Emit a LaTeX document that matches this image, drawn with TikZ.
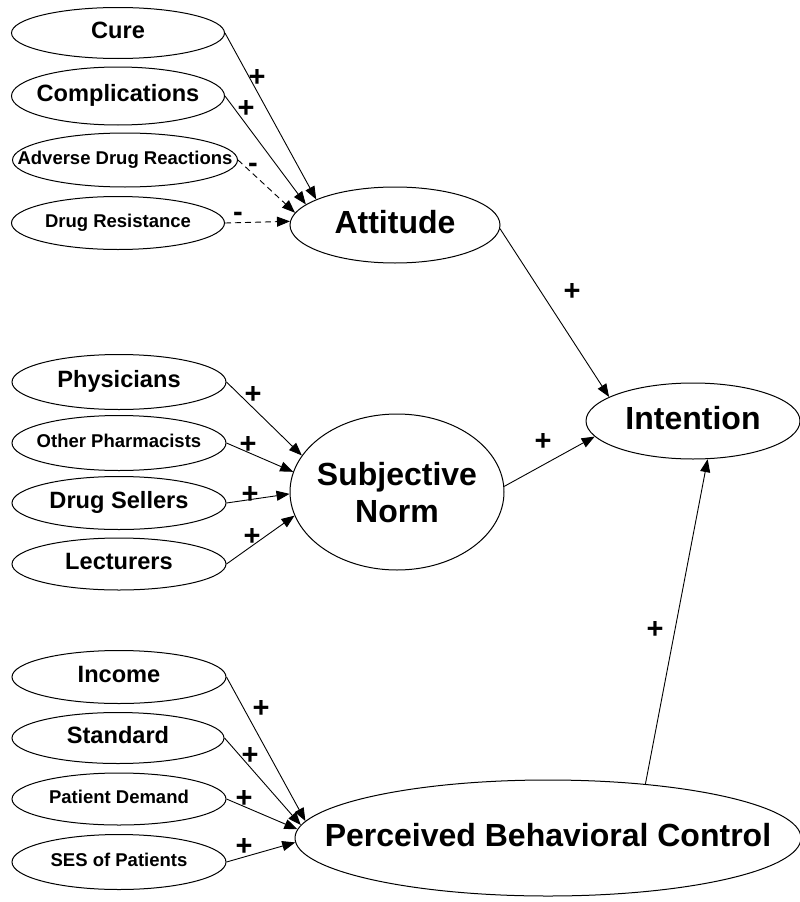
\documentclass[tikz,border=0pt]{standalone}
\usepackage{fontspec}
\setmainfont{Liberation Sans}
\usetikzlibrary{shapes.geometric,arrows.meta}

% text of zero size, caps centred a little above the middle
\newcommand{\elltxt}[1]{\makebox[0pt]{\raisebox{\dimexpr2.5pt-0.358em\relax}[0pt][0pt]{#1}}}

\begin{document}
\begin{tikzpicture}[x=1pt,y=-1pt,
  oval/.style={ellipse,draw,line width=1pt,inner sep=0pt},
  small/.style={font=\bfseries\fontsize{18.5}{22}\selectfont},
  mid/.style={font=\bfseries\fontsize{23.6}{28}\selectfont},
  big/.style={font=\bfseries\fontsize{32}{37}\selectfont},
  sign/.style={font=\bfseries\fontsize{29}{30}\selectfont,inner sep=0pt},
  link/.style={line width=0.9pt,-{Triangle[length=13pt,width=10pt]}},
  neg/.style={link,dash pattern=on 6pt off 4pt}]
\useasboundingbox (0,0) rectangle (800,902);

% attitude beliefs
\node[oval,mid,minimum width=213pt,minimum height=51pt] (cure) at (118,33) {\elltxt{Cure}};
\node[oval,mid,minimum width=213pt,minimum height=58pt] (compl) at (118,96) {\elltxt{Complications}};
\node[oval,small,minimum width=225pt,minimum height=54pt] (adr) at (125,160) {\elltxt{Adverse Drug Reactions}};
\node[oval,small,minimum width=213pt,minimum height=53pt] (dres) at (118,223) {\elltxt{Drug Resistance}};

% normative referents
\node[oval,mid,minimum width=214pt,minimum height=55pt] (phys) at (119,382) {\elltxt{Physicians}};
\node[oval,small,minimum width=214pt,minimum height=55pt] (opharm) at (119,443) {\elltxt{Other Pharmacists}};
\node[oval,mid,minimum width=214pt,minimum height=53pt] (dsell) at (119,503) {\elltxt{Drug Sellers}};
\node[oval,mid,minimum width=214pt,minimum height=52pt] (lect) at (119,564) {\elltxt{Lecturers}};

% control factors
\node[oval,mid,minimum width=214pt,minimum height=53pt] (income) at (119,677) {\elltxt{Income}};
\node[oval,mid,minimum width=212pt,minimum height=51pt] (std) at (118,738) {\elltxt{Standard}};
\node[oval,small,minimum width=214pt,minimum height=52pt] (pdem) at (119,799) {\elltxt{Patient Demand}};
\node[oval,small,minimum width=214pt,minimum height=55pt] (ses) at (119,862) {\elltxt{SES of Patients}};

% constructs
\node[oval,big,minimum width=210pt,minimum height=76pt] (att) at (395,225) {\elltxt{Attitude}};
\node[oval,big,minimum width=214pt,minimum height=156pt] (sn) at (397,492)
  {\makebox[0pt]{\raisebox{\dimexpr-2.5pt-0.25em\relax}[0pt][0pt]{\begin{tabular}{@{}c@{}}Subjective\\Norm\end{tabular}}}};
\node[oval,big,minimum width=506pt,minimum height=116pt] (pbc) at (548,838) {\elltxt{Perceived Behavioral Control}};
\node[oval,big,minimum width=214pt,minimum height=76pt] (int) at (693,421) {\elltxt{Intention}};

% connectors
\draw[link] (cure.east) -- (att.162);
\draw[link] (compl.east) -- (att.167);
\draw[neg] (adr.east) -- (att.173.5);
\draw[neg] (dres.east) -- (att.178.5);

\draw[link] (phys.east) -- (sn.159.5);
\draw[link] (opharm.east) -- (sn.169);
\draw[link] (dsell.east) -- (sn.181);
\draw[link] (lect.east) -- (sn.193.5);

\draw[link] (income.east) -- (pbc.176.2);
\draw[link] (std.east) -- (pbc.177.3);
\draw[link] (pdem.east) -- (pbc.178.9);
\draw[link] (ses.east) -- (pbc.181.1);

\draw[link] (att.-2) -- (int.164);
\draw[link] (sn.3) -- (int.-171);
\draw[link] (pbc.29) -- (int.-69);

% signs
\node[sign] (sCure) at (257,78) {+};
\node[sign] (sCompl) at (246,109) {+};
\node[sign] (sAdr) at (253,168) {-};
\node[sign] (sDres) at (238,217) {-};
\node[sign] (sPhys) at (253,395) {+};
\node[sign] (sOpharm) at (248,445) {+};
\node[sign] (sDsell) at (250,495) {+};
\node[sign] (sLect) at (252,537) {+};
\node[sign] (sIncome) at (261,709) {+};
\node[sign] (sStd) at (250,756) {+};
\node[sign] (sPdem) at (244,799) {+};
\node[sign] (sSes) at (244,847) {+};
\node[sign] (sAtt) at (572,292) {+};
\node[sign] (sSn) at (543,442) {+};
\node[sign] (sPbc) at (655,630) {+};
\end{tikzpicture}
\end{document}
